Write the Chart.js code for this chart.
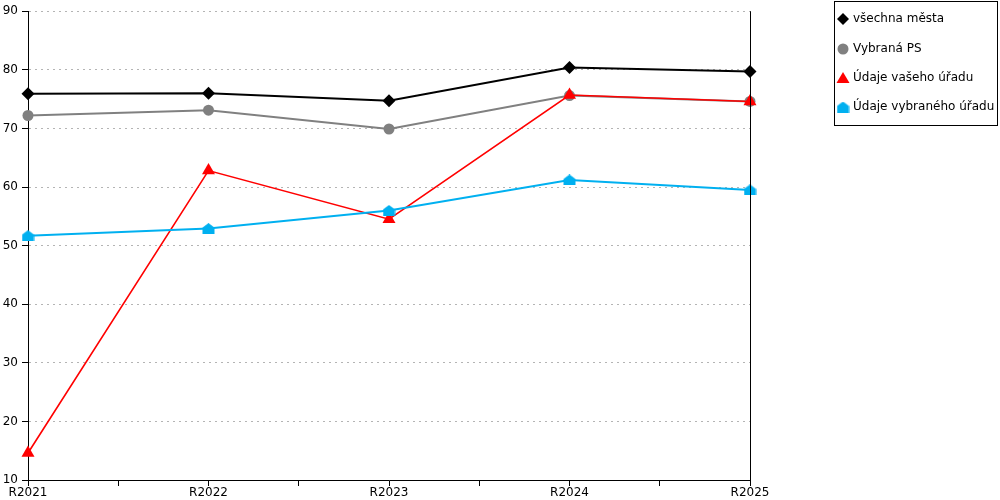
<!DOCTYPE html>
<html>
<head>
<meta charset="utf-8">
<script src="https://cdn.jsdelivr.net/npm/chart.js@4.4.0/dist/chart.umd.min.js"></script>
<style>
  html, body { margin: 0; padding: 0; background: #fff; }
  #wrap { width: 1000px; height: 500px; }
</style>
</head>
<body>
<div id="wrap"><canvas id="graf"></canvas></div>
<script>
// data
var roky = ["R2021", "R2022", "R2023", "R2024", "R2025"];
var vsechnaMesta = [75.9, 76.0, 74.7, 80.4, 79.7];
var vybranaPS = [72.2, 73.1, 69.9, 75.6, 74.6];
var vasUrad = [14.6, 62.8, 54.5, 75.7, 74.6];
var vybranyUrad = [51.7, 52.9, 56.0, 61.2, 59.5];
var yTicks = [10, 20, 30, 40, 50, 60, 70, 80, 90];

var FONT = "'DejaVu Sans', Verdana, sans-serif";

// domecek - znacka pro vybrany urad
function makeHouse(color) {
    var c = document.createElement("canvas");
    c.width = 13; c.height = 11;
    var g = c.getContext("2d");
    g.fillStyle = color;
    g.beginPath();
    g.moveTo(0.5, 4.5); g.lineTo(6.5, 0); g.lineTo(12.5, 4.5);
    g.lineTo(12.5, 11); g.lineTo(0.5, 11);
    g.closePath();
    g.fill();
    return c;
}
var house = makeHouse("#00b0f0");

function body(arr) {
    return arr.map(function (v, i) { return { x: i, y: v }; });
}

function drawMarker(ctx, style, color, x, y) {
    ctx.save();
    ctx.fillStyle = color;
    ctx.beginPath();
    if (style === "rectRot") {
        ctx.moveTo(x, y - 6); ctx.lineTo(x + 6, y); ctx.lineTo(x, y + 6); ctx.lineTo(x - 6, y);
        ctx.closePath(); ctx.fill();
    } else if (style === "circle") {
        ctx.arc(x, y, 5.5, 0, Math.PI * 2); ctx.fill();
    } else if (style === "triangle") {
        ctx.moveTo(x, y - 6); ctx.lineTo(x + 6.5, y + 5); ctx.lineTo(x - 6.5, y + 5);
        ctx.closePath(); ctx.fill();
    } else {
        ctx.drawImage(style, x - 6.5, y - 5.5);
    }
    ctx.restore();
}

var legendaPlugin = {
    id: "legenda",
    afterDraw: function (chart) {
        var ctx = chart.ctx;
        var a = chart.chartArea;
        ctx.save();
        // prava hrana grafu
        ctx.strokeStyle = "#000";
        ctx.lineWidth = 1;
        ctx.beginPath();
        ctx.moveTo(Math.round(a.right) + 0.5, a.top);
        ctx.lineTo(Math.round(a.right) + 0.5, a.bottom);
        ctx.stroke();
        // ramecek legendy
        ctx.strokeRect(834.5, 1.5, 163, 124);
        ctx.font = "12px " + FONT;
        ctx.textBaseline = "middle";
        var ys = [19, 49, 78, 107];
        chart.data.datasets.forEach(function (ds, i) {
            drawMarker(ctx, ds.pointStyle, ds.pointBackgroundColor, 843, ys[i]);
            ctx.fillStyle = "#000";
            ctx.fillText(ds.label, 853, ys[i]);
        });
        ctx.restore();
    }
};

var ctx = document.getElementById("graf").getContext("2d");
var graf = new Chart(ctx, {
    type: "line",
    data: {
        datasets: [{
            label: "všechna města",
            data: body(vsechnaMesta),
            borderColor: "#000000",
            pointBackgroundColor: "#000000",
            pointBorderWidth: 0,
            pointStyle: "rectRot",
            pointRadius: 6.5,
            borderWidth: 2,
            order: 4
        }, {
            label: "Vybraná PS",
            data: body(vybranaPS),
            borderColor: "#808080",
            pointBackgroundColor: "#808080",
            pointBorderWidth: 0,
            pointStyle: "circle",
            pointRadius: 5.5,
            borderWidth: 2,
            order: 3
        }, {
            label: "Údaje vašeho úřadu",
            data: body(vasUrad),
            borderColor: "#ff0000",
            pointBackgroundColor: "#ff0000",
            pointBorderWidth: 0,
            pointStyle: "triangle",
            pointRadius: 7.5,
            borderWidth: 1.6,
            order: 2
        }, {
            label: "Údaje vybraného úřadu",
            data: body(vybranyUrad),
            borderColor: "#00b0f0",
            pointBackgroundColor: "#00b0f0",
            pointBorderWidth: 0,
            pointStyle: house,
            pointRadius: 6,
            borderWidth: 2,
            order: 1
        }]
    },
    options: {
        responsive: true,
        maintainAspectRatio: false,
        animation: false,
        clip: false,
        elements: { line: { tension: 0 } },
        layout: { padding: { top: 10, right: 250, left: 0, bottom: 0 } },
        plugins: {
            legend: { display: false },
            tooltip: { enabled: false }
        },
        scales: {
            x: {
                type: "linear",
                min: 0,
                max: roky.length - 1,
                afterFit: function (s) { s.height = 20; },
                border: { color: "#000", width: 1 },
                grid: { drawOnChartArea: false, tickColor: "#000", tickLength: 6 },
                ticks: {
                    stepSize: 0.5,
                    autoSkip: false,
                    maxRotation: 0,
                    padding: 0,
                    color: "#000",
                    font: { family: FONT, size: 12 },
                    callback: function (v) {
                        return Number.isInteger(v) ? roky[v] : "";
                    }
                }
            },
            y: {
                min: yTicks[0],
                max: yTicks[yTicks.length - 1],
                afterFit: function (s) { s.width = 28; },
                afterBuildTicks: function (s) {
                    s.ticks = yTicks.map(function (v) { return { value: v }; });
                },
                border: { color: "#000", width: 1, dash: [2, 4] },
                grid: { color: "#b4b4b4", tickColor: "#000", tickLength: 6, tickBorderDash: [] },
                ticks: {
                    padding: 4,
                    color: "#000",
                    font: { family: FONT, size: 12 }
                }
            }
        }
    },
    plugins: [legendaPlugin]
});
</script>
</body>
</html>
